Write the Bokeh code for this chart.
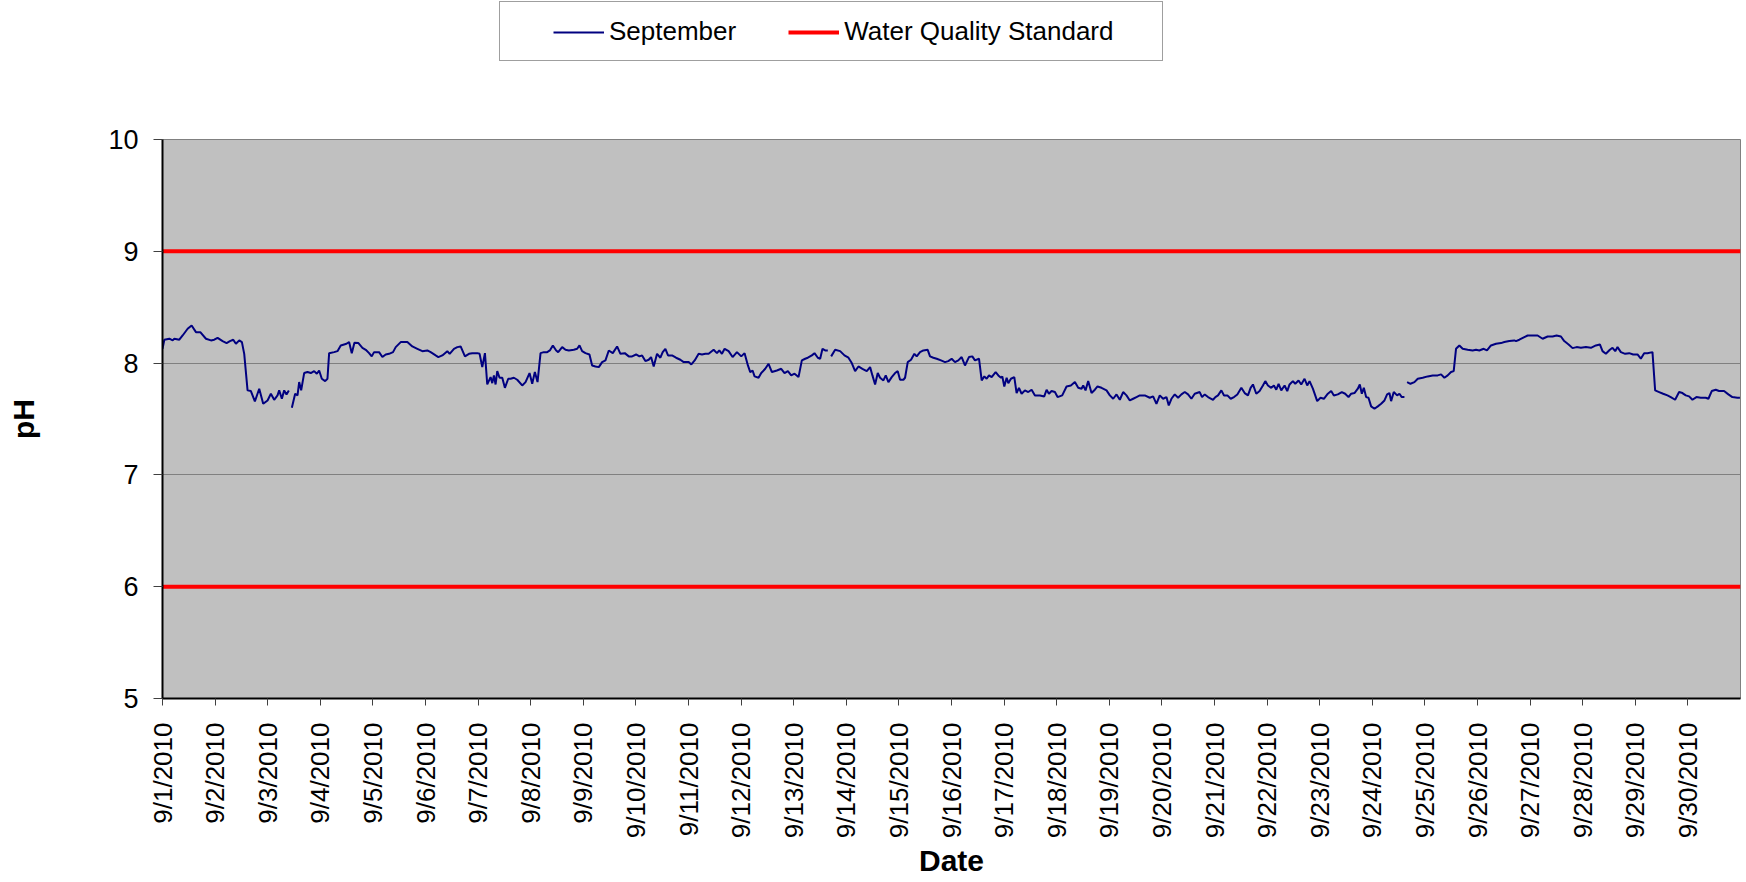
import math
from bokeh.plotting import figure
from bokeh.layouts import column
from bokeh.models import Range1d, FixedTicker, Legend, LegendItem
from bokeh.embed import file_html
from bokeh.resources import INLINE

nan = float("nan")

# hours since 9/1/2010 00:00 and pH readings (NaN marks a gap in the record)
hours = [
    0.0, 0.84, 3.12, 4.64, 5.4, 7.67, 9.19, 11.47, 13.29, 15.27, 17.24, 19.83, 22.1, 23.62,
    25.14, 27.42, 29.24, 30.76, 32.28, 33.5, 35.02, 36.23, 37.29, 38.81, 40.33, 42.15, 44.13,
    45.95, 47.93, 49.45, 50.96, 52.48, 53.24, 54.46, 55.52, 56.58, 57.65, 58.3, 59.02, 60.53,
    61.6, 62.36, 63.27, 64.64, 66.15, 67.67, 69.19, 70.41, 71.47, 72.69, 74.21, 75.27, 76.03,
    78.31, 79.83, 81.34, 82.86, 83.93, 85.14, 86.36, 87.57, 89.4, 91.22, 92.74, 94.26, 95.47,
    96.53, 98.81, 100.33, 101.85, 103.37, 105.19, 106.41, 108.69, 111.72, 114.0, 116.28,
    118.56, 120.84, 122.36, 124.64,
    125.85, 127.68, 129.95, 131.02, 132.99, 134.51, 136.03, 138.0, 139.83, 141.35, 143.62,
    144.69, 145.9, 147.12, 148.18, 149.7, 150.46, 151.22, 151.98, 152.74, 153.8, 155.02,
    156.23, 157.75, 158.81, 160.33, 161.85, 164.13, 165.65, 167.47, 168.69, 169.9, 171.12,
    172.49, 174.0, 175.52, 176.74, 178.11, 179.62, 180.54, 182.36, 183.88, 185.4, 187.68,
    189.2, 190.26, 191.47, 192.99, 194.81, 196.03, 197.55, 199.07, 200.59, 202.11, 203.63,
    205.45, 207.42, 208.94, 210.92, 212.74, 214.26, 216.08, 217.6, 218.82, 220.33, 221.85,
    222.92, 224.13, 225.65, 227.17, 228.23, 229.45, 230.66, 232.49, 234.31, 236.28, 237.8,
    240.08, 241.3, 242.82, 244.64, 246.16, 247.68,
    249.19, 251.46, 252.98, 254.05, 255.26, 256.48, 258.3, 260.12, 262.1, 264.07, 265.59,
    267.11, 268.17, 269.24, 270.15, 271.97, 273.19, 275.01, 276.53, 278.05, 280.33, 282.3,
    283.82, 285.34, 286.86, 288.38, 290.2, 291.72, 293.24, 294.45, 296.28, 297.49, 299.01,
    300.07, 301.14, 302.35, 303.57, 304.3, 305.09, 306.91, 309.19, 311.16, 312.99, 314.5,
    316.02, 317.54, 319.36, 321.34, 322.86, 323.92, 325.14, 326.35, 327.41, 328.93, 330.0,
    331.21, 332.73, 334.25, 335.47, 336.53, 338.05, 338.81, 340.03, 341.54, 343.06, 344.12,
    345.64, 347.16, 349.14, 350.2, 351.72, 353.24, 355.21, 357.04, 358.55, 360.07, 361.59,
    363.11, 364.63, 366.15, 367.97, 369.49, 370.71,
    372.55, 373.77, 374.98, 376.04, 377.11, 378.32, 380.14, 381.36, 382.58, 383.18, 384.09,
    385.16, 385.92, 387.13, 388.65, 389.71, 390.78, 391.99, 393.51, 395.03, 396.55, 398.07,
    400.35, 402.32, 403.39, 404.45, 405.66, 407.18, 408.4, 410.52, 412.5, 414.47, 416.3,
    417.82, 419.34, 420.09, 421.16, 422.37, 423.89, 425.41, 426.63, 428.45, 430.73, 432.25,
    433.77, 435.29, 436.8, 438.32, 439.84, 441.36, 442.88, 444.4, 445.92, 448.2, 450.47,
    451.99, 453.51, 455.03, 456.55, 458.07, 459.13, 460.35, 461.87, 463.39, 464.91, 466.43,
    467.94, 469.46, 470.98, 473.26, 474.32, 475.54, 477.06, 479.34, 480.4, 481.61, 483.13,
    484.35, 485.87, 487.39, 488.91, 490.42, 492.25, 493.77,
    495.27, 496.48, 497.54, 499.06, 500.58, 502.1, 503.17, 504.38, 505.9, 507.11, 508.18,
    509.24, 510.46, 511.98, 513.19, 514.25, 515.77, 516.84, 518.35, 519.57, 521.09, 522.3,
    523.37, 524.89, 526.86, 528.38, 529.9, 531.72, 533.24, 534.46, 536.28, 538.1, 539.62,
    541.14, 542.36, 543.87, 545.39, 546.3, 547.22, 548.13, 549.19, 550.26, 551.47, 552.99,
    554.51, 556.03, 557.55, 558.76, 559.82, 560.58, 561.8, 563.32, 564.38, 565.45, 566.66,
    567.3, 567.88, 569.4, 571.22, 572.74, 575.01, 577.29, 579.57, 581.85, 583.37, 584.89,
    586.41, 587.93, 589.14, 590.2, 591.72, 593.24, 595.52, 597.8, 599.32, 600.84, 602.81,
    604.33, 606.15, 608.43, 610.71, 612.23, 614.51, 616.79,
    617.56, 619.08, 621.36, 622.88, 625.15, 627.43, 629.71, 631.99, 634.27, 636.09, 638.07,
    639.58, 641.56, 643.38, 645.2, 647.18, 649.46, 651.74, 654.02, 655.84, 657.05, 658.57,
    660.39, 661.61, 662.83, 663.89, 665.41, 667.38, 669.21, 671.03, 673.0, 674.52, 676.04,
    677.56, 679.84, 681.05, 682.88, 684.7, 686.67, 688.19, 690.17, 691.99, 693.51, 695.03,
    696.55, 698.07, 699.89, 701.86, 704.14, 705.36, 706.88, 708.7, 710.22, 712.5, 714.47,
    716.29, 718.57, 719.75,
]

ph = [
    8.128, 8.209, 8.218, 8.203, 8.218, 8.209, 8.247, 8.307, 8.337, 8.277, 8.277, 8.218, 8.203, 8.209,
    8.226, 8.197, 8.179, 8.197, 8.209, 8.173, 8.203, 8.188, 8.083, 7.756, 7.75, 7.657, 7.771,
    7.636, 7.666, 7.726, 7.672, 7.711, 7.756, 7.681, 7.756, 7.72, 7.756, nan, 7.60, 7.726,
    7.711, 7.83, 7.756, 7.911, 7.92, 7.911, 7.928, 7.905, 7.934, 7.86, 7.839, 7.86, 8.089,
    8.098, 8.107, 8.158, 8.167, 8.173, 8.188, 8.089, 8.182, 8.179, 8.137, 8.119, 8.089, 8.06,
    8.098, 8.098, 8.054, 8.077, 8.083, 8.098, 8.143, 8.188, 8.188, 8.149, 8.128,
    8.107, 8.113, 8.098, 8.069,
    8.054, 8.069, 8.107, 8.083, 8.128, 8.143, 8.149, 8.06, 8.083, 8.089, 8.089,
    8.083, 7.964, 8.089, 7.809, 7.875, 7.821, 7.89, 7.809, 7.928, 7.869, 7.869,
    7.779, 7.86, 7.86, 7.869, 7.851, 7.80, 7.83, 7.911, 7.815, 7.92, 7.83,
    8.089, 8.098, 8.098, 8.113, 8.158, 8.113, 8.098, 8.143, 8.119, 8.113, 8.119,
    8.128, 8.158, 8.107, 8.089, 8.077, 7.979, 7.97, 7.964, 8.009, 8.024, 8.113,
    8.089, 8.149, 8.083, 8.089, 8.06, 8.06, 8.077, 8.06, 8.069, 8.018, 8.03,
    8.054, 7.97, 8.083, 8.048, 8.098, 8.128, 8.069, 8.069, 8.048, 8.03, 8.009,
    8.009, 7.988, 8.024, 8.083, 8.077, 8.083,
    8.083, 8.119, 8.089, 8.113, 8.083, 8.128, 8.107, 8.054, 8.098, 8.06, 8.089,
    7.979, 7.92, 7.934, 7.881, 7.869, 7.911, 7.949, 7.994, 7.92, 7.934, 7.949,
    7.911, 7.928, 7.89, 7.905, 7.875, 8.024, 8.039, 8.048, 8.069, 8.089, 8.048,
    8.039, 8.128, 8.113, 8.113, nan, 8.06, 8.119, 8.107, 8.069, 8.048, 8.0,
    7.928, 7.97, 7.949, 7.928, 7.964, 7.89, 7.809, 7.911, 7.869, 7.845, 7.89,
    7.83, 7.875, 7.911, 7.928, 7.851, 7.851, 7.869, 8.009, 8.03, 8.083, 8.06,
    8.098, 8.113, 8.119, 8.06, 8.048, 8.039, 8.024, 8.009, 8.018, 8.039, 8.009,
    8.024, 8.054, 7.979, 8.054, 8.06, 8.024,
    8.039, 7.845, 7.881, 7.86, 7.89, 7.875, 7.92, 7.89, 7.869, 7.881, 7.791,
    7.869, 7.821, 7.86, 7.875, 7.732, 7.779, 7.726, 7.756, 7.741, 7.762, 7.711,
    7.711, 7.702, 7.762, 7.726, 7.75, 7.741, 7.696, 7.711, 7.791, 7.80, 7.83,
    7.779, 7.771, 7.80, 7.756, 7.839, 7.732, 7.762, 7.791, 7.779, 7.756, 7.711,
    7.681, 7.72, 7.672, 7.741, 7.711, 7.666, 7.681, 7.696, 7.711, 7.711, 7.69,
    7.702, 7.636, 7.711, 7.681, 7.696, 7.622, 7.681, 7.72, 7.69, 7.72, 7.741,
    7.72, 7.681, 7.726, 7.741, 7.696, 7.72, 7.696, 7.672, 7.696, 7.711, 7.756,
    7.711, 7.711, 7.681, 7.696, 7.72, 7.779, 7.732,
    7.711, 7.779, 7.809, 7.726, 7.75, 7.80, 7.839, 7.80, 7.779, 7.80, 7.762,
    7.815, 7.756, 7.80, 7.75, 7.809, 7.839, 7.815, 7.845, 7.809, 7.86, 7.80,
    7.839, 7.771, 7.66, 7.69, 7.681, 7.726, 7.75, 7.711, 7.72, 7.741, 7.726,
    7.696, 7.726, 7.732, 7.771, 7.809, 7.726, 7.779, 7.696, 7.69, 7.613, 7.592,
    7.613, 7.636, 7.666, 7.72, 7.732, 7.66, 7.741, 7.711, 7.726, 7.696, 7.696,
    nan, 7.83, 7.815, 7.83, 7.86, 7.869, 7.881, 7.89, 7.89, 7.899, 7.869,
    7.89, 7.92, 7.928, 8.128, 8.158, 8.128, 8.119, 8.113, 8.119, 8.113, 8.128,
    8.113, 8.158, 8.173, 8.179, 8.188, 8.197, 8.203,
    8.197, 8.209, 8.232, 8.247, 8.247, 8.247, 8.218, 8.238, 8.238, 8.247, 8.238,
    8.197, 8.167, 8.134, 8.143, 8.137, 8.143, 8.137, 8.158, 8.167, 8.107, 8.083,
    8.119, 8.137, 8.107, 8.143, 8.098, 8.083, 8.089, 8.077, 8.077, 8.039, 8.089,
    8.089, 8.098, 7.756, 7.741, 7.726, 7.711, 7.696, 7.672, 7.741, 7.732, 7.711,
    7.702, 7.672, 7.696, 7.69, 7.69, 7.681, 7.75, 7.762, 7.75, 7.75, 7.72,
    7.696, 7.69, 7.69,
]

date_labels = [
    "9/1/2010", "9/2/2010", "9/3/2010", "9/4/2010", "9/5/2010", "9/6/2010", "9/7/2010",
    "9/8/2010", "9/9/2010", "9/10/2010", "9/11/2010", "9/12/2010", "9/13/2010", "9/14/2010",
    "9/15/2010", "9/16/2010", "9/17/2010", "9/18/2010", "9/19/2010", "9/20/2010", "9/21/2010",
    "9/22/2010", "9/23/2010", "9/24/2010", "9/25/2010", "9/26/2010", "9/27/2010", "9/28/2010",
    "9/29/2010", "9/30/2010",
]
y_ticks = [5, 6, 7, 8, 9, 10]
standard_limits = [6.0, 9.0]
series_name = "September"
standard_name = "Water Quality Standard"

FONT = "Liberation Sans"
NAVY = "#000080"
RED = "#FF0000"
W = 1744

days = [h / 24.0 for h in hours]
x_end = len(date_labels)
std_xs = [[0, x_end] for _ in standard_limits]
std_ys = [[v, v] for v in standard_limits]

# ---------- legend strip (top); its frame is aligned with the chart frame ----------
top = figure(width=W, height=70, output_backend="svg", toolbar_location=None,
             x_axis_type=None, y_axis_type=None, x_range=Range1d(0, x_end),
             y_range=Range1d(0, 1), min_border=0)
top.outline_line_color = None
top.background_fill_color = "white"
top.border_fill_color = "white"
# key renderers carry the real data, which lies outside this strip's y range
key_series = top.line(days, ph, line_color=NAVY, line_width=2)
key_std = top.multi_line(xs=std_xs, ys=std_ys, line_color=RED, line_width=4)
key_box = top.line(days, ph, line_alpha=0)

legend_box = Legend(items=[LegendItem(label=" ", renderers=[key_box])],
                    location=(337, 9), padding=0, spacing=0, margin=0,
                    glyph_width=1, glyph_height=58, label_height=58, label_width=661,
                    label_standoff=0, label_text_font_size="10px",
                    border_line_color="#404040", border_line_width=1,
                    background_fill_color="white", background_fill_alpha=1.0)
legend = Legend(items=[LegendItem(label=series_name, renderers=[key_series]),
                       LegendItem(label=standard_name, renderers=[key_std])],
                orientation="horizontal", location=(377, 9), padding=14, spacing=52,
                margin=0, glyph_width=51, glyph_height=30, label_height=30,
                label_standoff=5, label_text_font=FONT, label_text_font_size="26px",
                label_text_color="black", border_line_alpha=0, background_fill_alpha=0)
top.add_layout(legend_box)
top.add_layout(legend)

# ---------- main chart ----------
p = figure(width=W, height=811, output_backend="svg", toolbar_location=None,
           x_range=Range1d(0, x_end), y_range=Range1d(y_ticks[0], y_ticks[-1]),
           min_border_left=162, min_border_right=4, min_border_top=69,
           min_border_bottom=183)
p.background_fill_color = "#C0C0C0"
p.border_fill_color = "white"
p.outline_line_color = "#808080"
p.outline_line_width = 1

p.xgrid.visible = False
p.ygrid.ticker = FixedTicker(ticks=y_ticks)
p.ygrid.grid_line_color = "#808080"
p.ygrid.grid_line_width = 1

# x axis
p.xaxis.ticker = FixedTicker(ticks=list(range(len(date_labels))))
p.xaxis.major_label_overrides = {i: lab for i, lab in enumerate(date_labels)}
p.xaxis.major_label_orientation = math.pi / 2
p.xaxis.major_label_text_font = FONT
p.xaxis.major_label_text_font_size = "26px"
p.xaxis.major_label_text_color = "black"
p.xaxis.major_label_standoff = 17
p.xaxis.major_tick_out = 7
p.xaxis.major_tick_in = 0
p.xaxis.minor_tick_out = 0
p.xaxis.minor_tick_in = 0
p.xaxis.major_tick_line_color = "#404040"
p.xaxis.axis_line_color = "black"
p.xaxis.axis_line_width = 2
p.xaxis.axis_label = "Date"
p.xaxis.axis_label_text_font = FONT
p.xaxis.axis_label_text_font_style = "bold"
p.xaxis.axis_label_text_font_size = "30px"
p.xaxis.axis_label_text_color = "black"
p.xaxis.axis_label_standoff = 3

# y axis
p.yaxis.ticker = FixedTicker(ticks=y_ticks)
p.yaxis.major_label_text_font = FONT
p.yaxis.major_label_text_font_size = "27px"
p.yaxis.major_label_text_color = "black"
p.yaxis.major_label_standoff = 15
p.yaxis.major_tick_out = 9
p.yaxis.major_tick_in = 0
p.yaxis.minor_tick_out = 0
p.yaxis.minor_tick_in = 0
p.yaxis.major_tick_line_color = "#404040"
p.yaxis.axis_line_color = "black"
p.yaxis.axis_line_width = 2
p.yaxis.axis_label = "pH"
p.yaxis.axis_label_text_font = FONT
p.yaxis.axis_label_text_font_style = "bold"
p.yaxis.axis_label_text_font_size = "30px"
p.yaxis.axis_label_text_color = "black"
p.yaxis.axis_label_standoff = 65

# data
p.multi_line(xs=std_xs, ys=std_ys, line_color=RED, line_width=4)
p.line(days, ph, line_color=NAVY, line_width=2)

layout = column(top, p, spacing=0)
open("out.html", "w").write(file_html(layout, INLINE))
